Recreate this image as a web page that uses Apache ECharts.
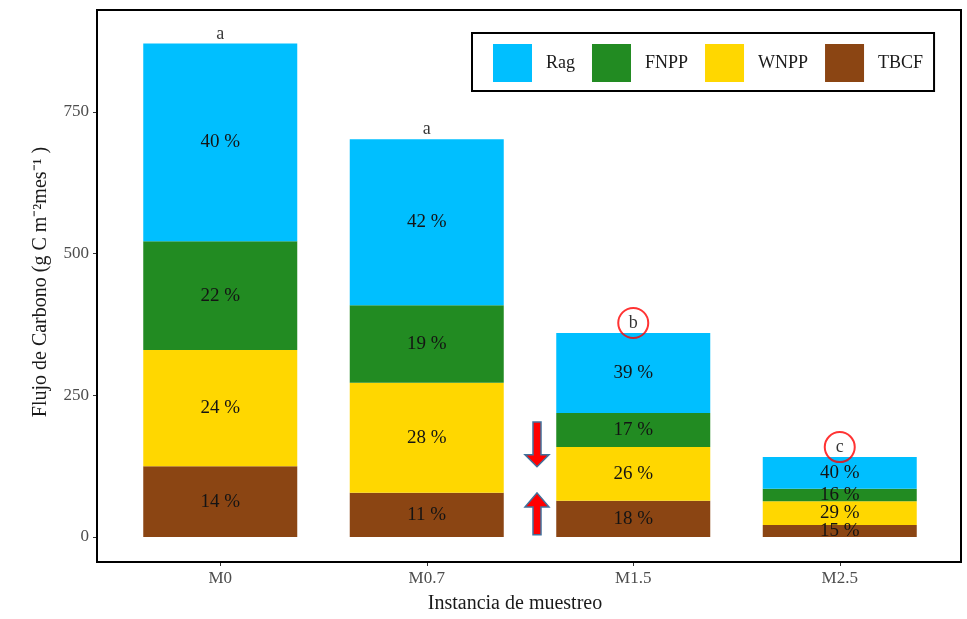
<!DOCTYPE html>
<html>
<head>
<meta charset="utf-8">
<script src="https://cdn.jsdelivr.net/npm/echarts@6/dist/echarts.min.js"></script>
<style>html,body{margin:0;padding:0;background:#fff;}#c{width:967px;height:619px;}</style>
</head>
<body>
<div id="c"></div>
<script>
const categories = ['M0', 'M0.7', 'M1.5', 'M2.5'];
const tbcf = [125, 78, 64, 21];
const wnpp = [205, 194, 95, 42];
const fnpp = [192, 137, 60, 22];
const rag  = [349, 293, 141, 56];
const pctTBCF = ['14 %', '11 %', '18 %', '15 %'];
const pctWNPP = ['24 %', '28 %', '26 %', '29 %'];
const pctFNPP = ['22 %', '19 %', '17 %', '16 %'];
const pctRag  = ['40 %', '42 %', '39 %', '40 %'];
const letters = ['a', 'a', 'b', 'c'];
const circled = [false, false, true, true];
const yTicks = [0, 250, 500, 750];

const SERIF = '"Liberation Serif", "Times New Roman", serif';
const totals = categories.map((c, i) => tbcf[i] + wnpp[i] + fnpp[i] + rag[i]);

function barSeries(name, data, color, pct) {
  return {
    name: name, type: 'bar', stack: 'total', barWidth: 154,
    data: data,
    itemStyle: { color: color },
    label: {
      show: true, position: 'inside',
      formatter: p => pct[p.dataIndex],
      fontFamily: SERIF, fontSize: 19, color: '#141414'
    },
    emphasis: { disabled: true }
  };
}

const chart = echarts.init(document.getElementById('c'), null, { renderer: 'canvas' });
const option = {
  animation: false,
  backgroundColor: '#fff',
  grid: { left: 117, right: 24, top: 27, bottom: 82, containLabel: false },
  legend: {
    data: ['Rag', 'FNPP', 'WNPP', 'TBCF'],
    left: 472, top: 33,
    icon: 'rect', itemWidth: 39, itemHeight: 38, itemGap: 17,
    padding: [11, 11, 9, 21],
    borderColor: '#000', borderWidth: 2,
    textStyle: { fontFamily: SERIF, fontSize: 18, color: '#1a1a1a', padding: [0, 0, 0, 9] },
    selectedMode: false
  },
  xAxis: {
    type: 'category', data: categories, offset: 25,
    axisLine: { show: false, onZero: false },
    axisTick: { show: true, alignWithLabel: true, length: 4, lineStyle: { color: '#333' } },
    axisLabel: { fontFamily: SERIF, fontSize: 17, color: '#4d4d4d', margin: 8 },
    name: 'Instancia de muestreo', nameLocation: 'middle', nameGap: 32,
    nameTextStyle: { fontFamily: SERIF, fontSize: 20, color: '#1a1a1a', padding: [0, 30, 0, 0] }
  },
  yAxis: {
    type: 'value', min: 0, max: 900, interval: 250, offset: 20,
    axisLine: { show: false, onZero: false },
    axisTick: { show: true, length: 4, lineStyle: { color: '#333' } },
    splitLine: { show: false },
    axisLabel: {
      fontFamily: SERIF, fontSize: 17, color: '#4d4d4d', margin: 8, showMaxLabel: false,
      formatter: v => (yTicks.indexOf(v) >= 0 ? String(v) : '')
    },
    name: 'Flujo de Carbono (g C m\u207B\u00B2mes\u207B\u00B9 )', nameLocation: 'middle', nameGap: 46,
    nameTextStyle: { fontFamily: SERIF, fontSize: 20, color: '#1a1a1a' }
  },
  series: [
    barSeries('TBCF', tbcf, '#8B4513', pctTBCF),
    barSeries('WNPP', wnpp, '#FFD700', pctWNPP),
    barSeries('FNPP', fnpp, '#228B22', pctFNPP),
    barSeries('Rag', rag, '#00BFFF', pctRag),
    {
      name: 'letters', type: 'scatter', symbolSize: 1, itemStyle: { color: 'transparent' },
      data: categories.map((c, i) => [c, totals[i]]),
      label: {
        show: true, position: 'top', distance: 0,
        formatter: p => letters[p.dataIndex],
        fontFamily: SERIF, fontSize: 18, color: '#000'
      },
      z: 5, silent: true
    },
    {
      name: 'circles', type: 'scatter', symbol: 'circle', symbolSize: [30, 30],
      symbolOffset: [0, -10],
      itemStyle: { color: 'rgba(0,0,0,0)', borderColor: '#FF0000', borderWidth: 2 },
      data: categories.map((c, i) => circled[i] ? [c, totals[i]] : null).filter(d => d),
      z: 6, silent: true
    }
  ]
};
chart.setOption(option);

// annotation arrows between M0.7 and M1.5
const pA = chart.convertToPixel({ xAxisIndex: 0, yAxisIndex: 0 }, ['M0.7', 0]);
const pB = chart.convertToPixel({ xAxisIndex: 0, yAxisIndex: 0 }, ['M1.5', 0]);
const ax = (pA[0] + pB[0]) / 2 + 7;
const py = v => chart.convertToPixel({ yAxisIndex: 0 }, v);
function arrow(yStart, yHead, yTip) {
  return {
    type: 'polygon',
    shape: { points: [[ax - 4, yStart], [ax + 4, yStart], [ax + 4, yHead], [ax + 12, yHead], [ax, yTip], [ax - 12, yHead], [ax - 4, yHead]] },
    style: { fill: '#FF0000', stroke: '#41719C', lineWidth: 1.5 },
    z: 20
  };
}
chart.setOption({
  graphic: [
    { type: 'rect', shape: { x: 97, y: 10, width: 864, height: 552 }, style: { fill: 'none', stroke: '#000', lineWidth: 2 }, z: 10, silent: true },
    arrow(py(203), py(145), py(124)),
    arrow(py(4), py(53), py(78))
  ]
});
</script>
</body>
</html>
